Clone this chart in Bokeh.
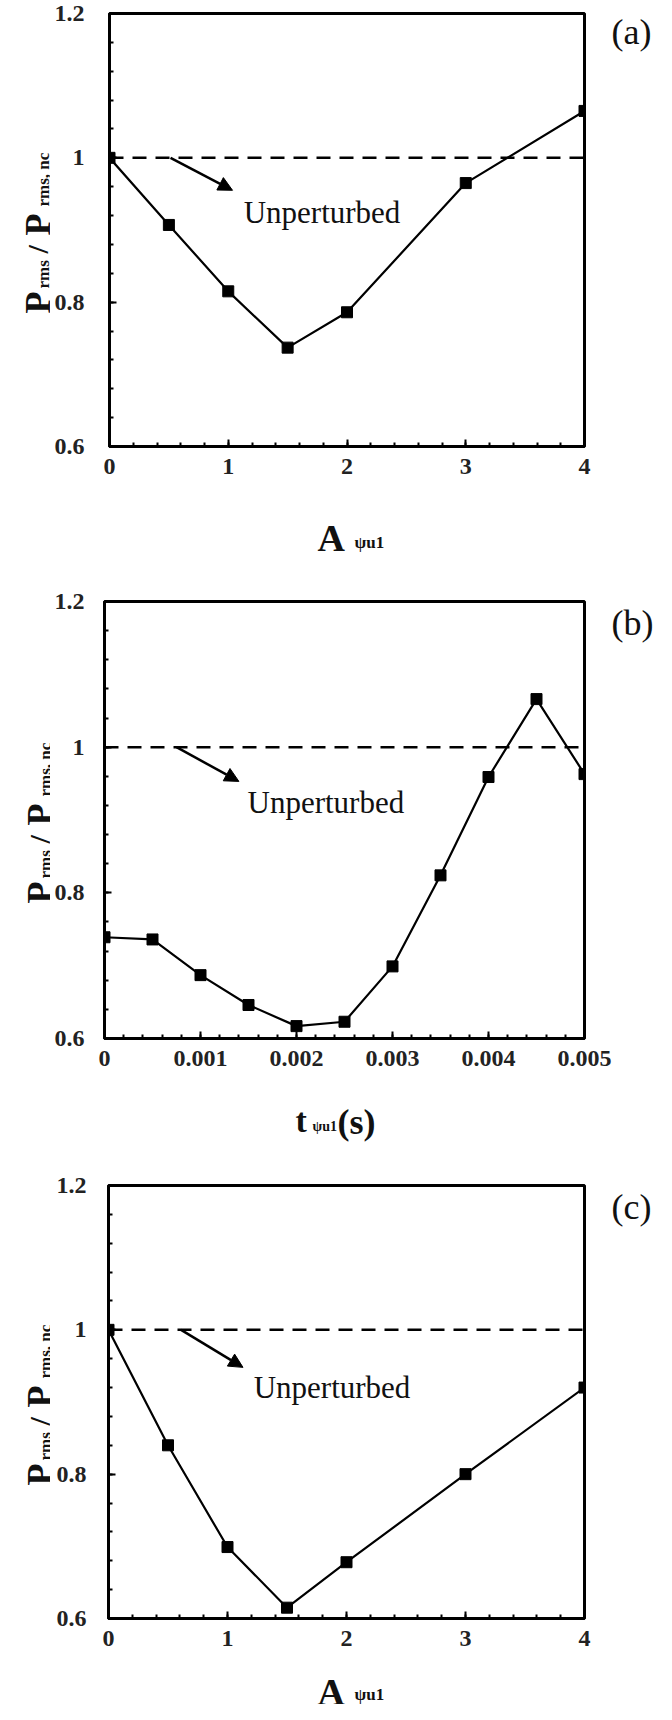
import numpy as np
from bokeh.plotting import figure
from bokeh.layouts import column, row
from bokeh.models import (FixedTicker, CustomJSTickFormatter, Label, Span,
                          Arrow, NormalHead, Range1d, LinearAxis)
from bokeh.embed import file_html
from bokeh.resources import INLINE

# ---------------- data ----------------
a_x = [0, 0.5, 1, 1.5, 2, 3, 4]
a_y = [1.0, 0.907, 0.815, 0.737, 0.786, 0.965, 1.065]

b_x = [0, 0.0005, 0.001, 0.0015, 0.002, 0.0025, 0.003, 0.0035, 0.004, 0.0045, 0.005]
b_y = [0.739, 0.736, 0.687, 0.646, 0.617, 0.623, 0.699, 0.824, 0.959, 1.066, 0.963]

c_x = [0, 0.5, 1, 1.5, 2, 3, 4]
c_y = [1.0, 0.840, 0.699, 0.615, 0.678, 0.800, 0.920]

y_ticks = [0.6, 0.8, 1.0, 1.2]
ax_ticks = [0, 1, 2, 3, 4]
bx_ticks = [0, 0.001, 0.002, 0.003, 0.004, 0.005]
reference_level = 1.0
panel_names = ["(a)", "(b)", "(c)"]
note_text = "Unperturbed"

SERIF = "Liberation Serif"
INK = "#111111"
PAGE_W = 656
YLAB_W = 50


def minor(lo, hi, step):
    n = int(round((hi - lo) / step))
    return [round(lo + i * step, 7) for i in range(n + 1)]


def text_fig(w, h, yr, bt=0, bb=0):
    f = figure(width=w, height=h, output_backend="svg", toolbar_location=None,
               title=None, x_range=Range1d(0, w), y_range=Range1d(*yr),
               x_axis_type=None, y_axis_type=None,
               min_border_left=0, min_border_right=0,
               min_border_top=bt, min_border_bottom=bb)
    f.outline_line_color = None
    f.grid.visible = False
    f.background_fill_color = "white"
    f.border_fill_color = "white"
    return f


def make_panel(xs, ys, x_lo, x_hi, x_ticks, x_step, geo, tag, tag_y,
               ystand, arrow, note_xy, ylab_x, xlab):
    row_top, T, B, L, R, main_bot, xl_bot = geo
    main_h = main_bot - row_top
    main_w = PAGE_W - YLAB_W
    left0 = 8 + YLAB_W

    p = figure(width=main_w, height=main_h, output_backend="svg",
               toolbar_location=None, title=None,
               x_range=Range1d(x_lo, x_hi), y_range=Range1d(0.6, 1.2),
               min_border_left=L - left0, min_border_right=8 + PAGE_W - R,
               min_border_top=T - row_top, min_border_bottom=main_bot - B)
    p.background_fill_color = "white"
    p.border_fill_color = "white"
    p.grid.visible = False
    p.outline_line_color = "black"
    p.outline_line_width = 3

    fmt = CustomJSTickFormatter(code="return String(+tick.toFixed(6));")
    p.xaxis.ticker = FixedTicker(ticks=x_ticks, minor_ticks=minor(x_lo, x_hi, x_step))
    p.yaxis.ticker = FixedTicker(ticks=y_ticks, minor_ticks=minor(0.6, 1.2, 0.04))
    p.xaxis.formatter = fmt
    p.yaxis.formatter = fmt
    for ax in (p.xaxis[0], p.yaxis[0]):
        ax.axis_line_width = 3
        ax.axis_line_color = "black"
        ax.major_tick_in = 7
        ax.major_tick_out = 0
        ax.minor_tick_in = 4
        ax.minor_tick_out = 0
        ax.major_tick_line_width = 2
        ax.minor_tick_line_width = 2
        ax.major_label_text_font = SERIF
        ax.major_label_text_font_style = "bold"
        ax.major_label_text_font_size = "24px"
        ax.major_label_text_color = "#222222"
    p.xaxis.major_label_standoff = 12
    p.yaxis.major_label_standoff = ystand

    # panel tag as the single tick label of an otherwise invisible right axis
    tag_axis = LinearAxis(ticker=FixedTicker(ticks=[tag_y], minor_ticks=[]),
                          formatter=CustomJSTickFormatter(code="return '%s';" % tag),
                          axis_line_color=None, major_tick_line_color=None,
                          minor_tick_line_color=None, major_label_standoff=21,
                          major_label_text_font=SERIF,
                          major_label_text_font_size="36px",
                          major_label_text_color=INK)
    p.add_layout(tag_axis, "right")

    p.add_layout(Span(location=reference_level, dimension="width",
                      line_color="black", line_width=2.5, line_dash="14 9"))

    p.line(xs, ys, line_color="black", line_width=2.2)
    p.scatter(xs, ys, marker="square", size=11, color="black")

    (x0, y0, x1, y1) = arrow
    p.add_layout(Arrow(end=NormalHead(size=14, fill_color="black", line_color="black"),
                       x_start=x0, y_start=y0, x_end=x1, y_end=y1,
                       line_color="black", line_width=2.5))
    p.add_layout(Label(x=note_xy[0], y=note_xy[1], text=note_text,
                       text_font=SERIF, text_font_size="31px", text_color=INK,
                       text_baseline="alphabetic", text_align="left"))

    # ---- y label strip: frame aligned with the main frame ----
    yl = text_fig(YLAB_W, main_h, (main_bot - B, main_bot - T),
                  bt=T - row_top, bb=main_bot - B)
    cmid = (T + B) / 2.0
    pieces = [("P", 0, 83.5, "36px"), ("rms", 6, 58.5, "17px"),
              ("/", 0, 23.5, "30px"), ("P", 0, 5.5, "36px"),
              ("rms, nc", 6, -23.5, "17px")]
    for txt, dx, d, fs in pieces:
        page_y = cmid + d
        yl.add_layout(Label(x=ylab_x + dx - 8, y=main_bot - page_y,
                            text=txt, angle=np.pi / 2, text_font=SERIF,
                            text_font_style="bold", text_font_size=fs,
                            text_color=INK, text_align="left",
                            text_baseline="alphabetic"))

    # ---- x label strip ----
    xh = xl_bot - main_bot
    xl = text_fig(PAGE_W, xh, (0, xh))
    for txt, px, py, fs in xlab:
        xl.add_layout(Label(x=px - 8, y=xl_bot - py, text=txt, text_font=SERIF,
                            text_font_style="bold", text_font_size=fs,
                            text_color=INK, text_align="left",
                            text_baseline="alphabetic"))

    return column(row(yl, p, spacing=0), xl, spacing=0)


pa = make_panel(a_x, a_y, 0, 4, ax_ticks, 0.2,
                (8, 21, 454, 117, 592, 498, 590),
                panel_names[0], 1.174, 25,
                (0.514, 1.0, 1.036, 0.955), (1.13, 0.924), 45,
                [("A", 325, 545, "38px"), ("ψu1", 362, 550, "17px")])
pb = make_panel(b_x, b_y, 0, 0.005, bx_ticks, 0.0002,
                (590, 609, 1046, 112, 592, 1090, 1170),
                panel_names[1], 1.170, 20,
                (0.00075, 1.0, 0.0014, 0.953), (0.00149, 0.924), 47,
                [("t", 303, 1128, "34px"), ("ψu1", 320, 1134, "14px"),
                 ("(s)", 345, 1129, "36px")])
pc = make_panel(c_x, c_y, 0, 4, ax_ticks, 0.2,
                (1170, 1193, 1626, 116, 592, 1666, 1712),
                panel_names[2], 1.170, 22,
                (0.61, 1.0, 1.13, 0.948), (1.22, 0.92), 47,
                [("A", 325, 1699, "38px"), ("ψu1", 362, 1702, "17px")])

layout = column(pa, pb, pc, spacing=0)
open("out.html", "w").write(file_html(layout, INLINE))
